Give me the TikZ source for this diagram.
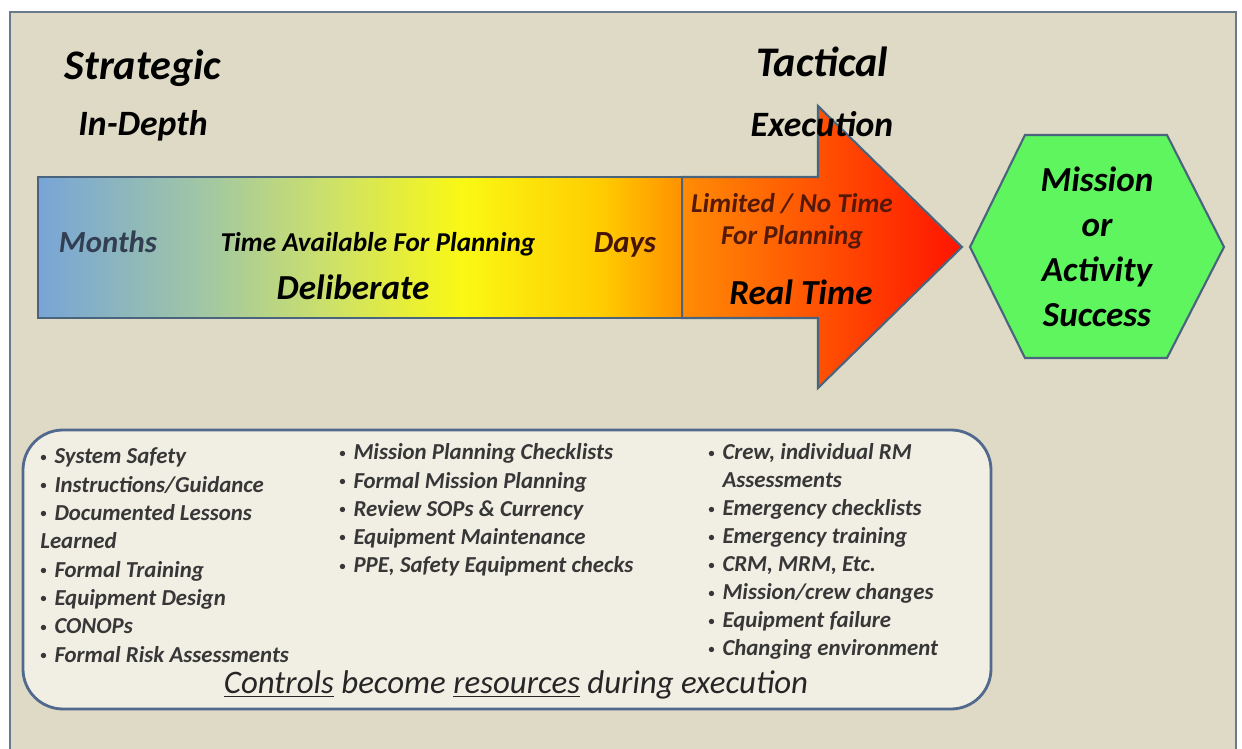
\documentclass[tikz,border=0pt]{standalone}
\usepackage{fontspec}
\usepackage{graphicx}
\setmainfont{Carlito}
\definecolor{panelbg}{RGB}{222,218,198}
\definecolor{panelline}{RGB}{105,122,140}
\definecolor{boxbg}{RGB}{241,238,228}
\definecolor{boxline}{RGB}{80,105,140}
\definecolor{arrowline}{RGB}{75,100,125}
\definecolor{barblue}{RGB}{120,165,215}
\definecolor{barteal}{RGB}{160,198,165}
\definecolor{barlime}{RGB}{205,225,105}
\definecolor{baryellow}{RGB}{250,248,20}
\definecolor{barsun}{RGB}{255,205,0}
\definecolor{barorange}{RGB}{255,145,0}
\definecolor{arroworange}{RGB}{255,140,5}
\definecolor{arrowred}{RGB}{255,20,0}
\definecolor{goalgreen}{RGB}{95,245,95}
\definecolor{itemgray}{RGB}{55,55,55}
\definecolor{monthblue}{RGB}{50,62,82}
\definecolor{limitbrown}{RGB}{85,25,10}
\pgfdeclarehorizontalshading{planbar}{100bp}{color(0bp)=(barblue); color(25bp)=(barblue);
  color(37.6bp)=(barteal); color(47.7bp)=(barlime); color(58bp)=(baryellow);
  color(68.6bp)=(barsun); color(75bp)=(barorange); color(100bp)=(barorange)}
\newcommand\itembullet{\makebox[0.62em][l]{\raisebox{0.12em}{\scalebox{0.55}{•}}}}
\begin{document}
\begin{tikzpicture}[x=0.02cm, y=-0.02cm,
    heading/.style={anchor=base, inner sep=0pt, font=\fontsize{24}{28}\selectfont\bfseries\itshape},
    subheading/.style={anchor=base, inner sep=0pt, font=\fontsize{20.3}{24}\selectfont\bfseries\itshape},
    bartext/.style={anchor=base, inner sep=0pt, font=\fontsize{15.5}{18}\selectfont\bfseries\itshape},
    bigtext/.style={anchor=base, inner sep=0pt, font=\fontsize{20}{24}\selectfont\bfseries\itshape},
    item/.style={anchor=base west, inner sep=0pt, text=itemgray, font=\fontsize{13}{16}\selectfont\bfseries\itshape}]
  \useasboundingbox (0,0) rectangle (1242,749);
  \draw[panelline, line width=1.5pt, fill=panelbg] (10,12) rectangle (1236,752);

  % time line
  \shadedraw[draw=arrowline, line width=1.2pt, left color=arroworange, right color=arrowred]
    (682,177) -- (818,177) -- (818,106) -- (962,247) -- (818,388) -- (818,318) -- (682,318) -- cycle;
  \shadedraw[draw=arrowline, line width=1.2pt, shading=planbar] (38,177) rectangle (682,318);

  % goal
  \draw[arrowline, line width=1.2pt, fill=goalgreen]
    (970,247) -- (1025,135) -- (1167,135) -- (1224,247) -- (1167,358) -- (1025,358) -- cycle;
  \node[align=center, inner sep=0pt, font=\fontsize{20}{25.5}\selectfont\bfseries\itshape] (goal) at (1097,247) {Mission\\or\\Activity\\Success};

  \node[heading] (strategic) at (143,80) {Strategic};
  \node[subheading] (indepth) at (143,136) {In-Depth};
  \node[heading] (tactical) at (822,77) {Tactical};
  \node[subheading] (execution) at (822,137) {Execution};

  \node[bartext, font=\fontsize{17.5}{20}\selectfont\bfseries\itshape, text=monthblue] (months) at (108,253) {Months};
  \node[bartext] (available) at (378,252) {Time Available For Planning};
  \node[bartext, font=\fontsize{17.5}{20}\selectfont\bfseries\itshape, text=limitbrown!80!black] (days) at (625,253) {Days};
  \node[bigtext] (deliberate) at (353,300) {Deliberate};
  \node[bartext, text=limitbrown] (limited) at (792,213) {Limited / No Time};
  \node[bartext, text=limitbrown] (noplan) at (792,245) {For Planning};
  \node[bigtext] (realtime) at (801,305) {Real Time};

  % controls
  \draw[boxline, line width=1.6pt, fill=boxbg, rounded corners=0.8cm] (23,430) rectangle (991,709);
  \foreach \txt [count=\i from 0] in {\itembullet System Safety, \itembullet Instructions/Guidance, \itembullet Documented Lessons,
      Learned, \itembullet Formal Training, \itembullet Equipment Design, \itembullet CONOPs, \itembullet Formal Risk Assessments}
    \node[item] (early-\i) at (40,464+28.3*\i) {\txt};
  \foreach \txt [count=\i from 0] in {\itembullet Mission Planning Checklists, \itembullet Formal Mission Planning,
      \itembullet Review SOPs \& Currency, \itembullet Equipment Maintenance, {\itembullet PPE, Safety Equipment checks}}
    \node[item] (mid-\i) at (339,460+28.2*\i) {\txt};
  \foreach \txt [count=\i from 0] in {{\itembullet Crew, individual RM}, \hphantom{\itembullet}Assessments, \itembullet Emergency checklists,
      \itembullet Emergency training, {\itembullet CRM, MRM, Etc.}, \itembullet Mission/crew changes, \itembullet Equipment failure, \itembullet Changing environment}
    \node[item] (late-\i) at (708,460+28*\i) {\txt};
  \node[anchor=base, inner sep=0pt, text=black!85, font=\fontsize{18.7}{22}\selectfont\itshape] (controls) at (516,694)
    {\underline{Controls} become \underline{resources} during execution};
\end{tikzpicture}
\end{document}
